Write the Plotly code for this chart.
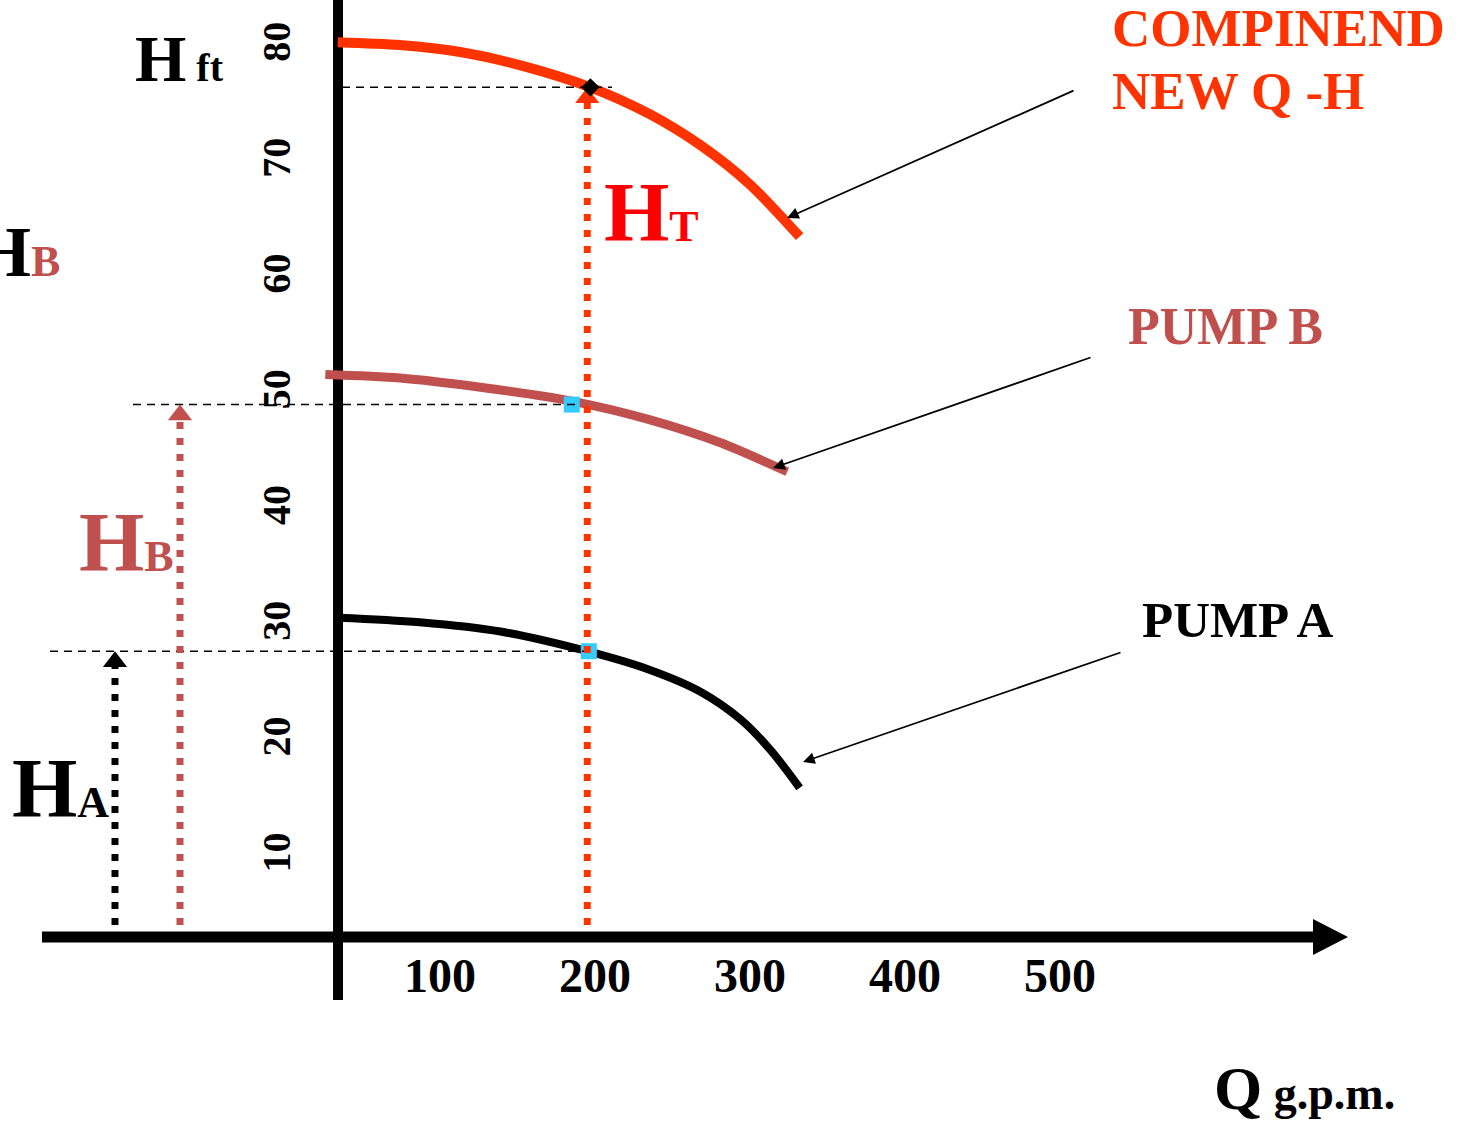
import plotly.graph_objects as go

# ---- Pump characteristic curves: flow Q (g.p.m.) vs head H (ft) ----
q_pump_a = [35, 87, 139, 195, 235, 268, 294, 313, 332]
h_pump_a = [30.1, 29.7, 28.9, 27.2, 25.6, 23.7, 21.3, 18.7, 15.4]

q_pump_b = [26, 74, 126, 185, 235, 281, 324]
h_pump_b = [51.1, 50.8, 50.0, 48.8, 47.2, 45.2, 42.7]

q_combined = [34, 74, 113, 152, 197, 235, 268, 300, 332]
h_combined = [79.8, 79.55, 78.95, 77.8, 75.9, 73.6, 70.9, 67.5, 63.0]

# operating point of the two pumps in series
q_op = 195
head_a = 27.2
head_b = 48.5
head_total = 75.9
q_mark_a = 196
q_mark_b = 185
q_mark_total = 197

x_tick_vals = [100, 200, 300, 400, 500]
y_tick_vals = [10, 20, 30, 40, 50, 60, 70, 80]

# ---- canvas / scale set-up ----
W, H = 1463, 1121
X_RANGE = [-183.9, 760.0]
Y_RANGE = [-13.37, 83.44]
FT_PER_PX = (Y_RANGE[1] - Y_RANGE[0]) / H

FONT = "Liberation Serif"
RED = "#FF3300"
BROWN = "#C0504D"
CYAN = "#33CCFF"


def q_at(px):
    return X_RANGE[0] + px / W * (X_RANGE[1] - X_RANGE[0])


def h_at(py):
    return Y_RANGE[1] - py / H * (Y_RANGE[1] - Y_RANGE[0])


def fx(px):
    return px / W


def fy(py):
    return 1 - py / H


fig = go.Figure()

# curves
fig.add_trace(go.Scatter(x=q_combined, y=h_combined, mode="lines",
                         line=dict(color=RED, width=10, shape="spline", smoothing=0.8)))
fig.add_trace(go.Scatter(x=q_pump_b, y=h_pump_b, mode="lines",
                         line=dict(color=BROWN, width=9, shape="spline", smoothing=0.8)))
fig.add_trace(go.Scatter(x=q_pump_a, y=h_pump_a, mode="lines",
                         line=dict(color="black", width=8, shape="spline", smoothing=1.0)))

# operating-point markers on the single-pump curves
fig.add_trace(go.Scatter(x=[q_mark_b, q_mark_a], y=[head_b, head_a], mode="markers",
                         marker=dict(symbol="square", size=16, color=CYAN,
                                     line=dict(width=0))))

# dashed head levels
dash_levels = [
    (q_at(342), q_at(612), head_total),
    (q_at(133), q_at(580), head_b),
    (q_at(50), q_at(595), head_a),
]
for x0, x1, lvl in dash_levels:
    fig.add_trace(go.Scatter(x=[x0, x1], y=[lvl, lvl], mode="lines",
                             line=dict(color="black", width=1.5, dash="8px,6px")))

# dotted head arrows
HEAD_SIZE = 21
base_h = h_at(925)
arrows = [
    (q_at(115), head_a, "black"),
    (q_at(180), head_b, BROWN),
    (q_op, head_total, RED),
]
for xq, top, col in arrows:
    centre = top - (HEAD_SIZE / 2) * FT_PER_PX
    fig.add_trace(go.Scatter(x=[xq, xq], y=[base_h, centre], mode="lines",
                             line=dict(color=col, width=7, dash="7px,9px")))
    fig.add_trace(go.Scatter(x=[xq], y=[centre], mode="markers",
                             marker=dict(symbol="triangle-up", size=HEAD_SIZE,
                                         color=col, line=dict(width=0))))

# combined duty point
fig.add_trace(go.Scatter(x=[q_mark_total], y=[head_total], mode="markers",
                         marker=dict(symbol="diamond", size=14, color="black",
                                     line=dict(width=0))))

# ---- hand-drawn style axes ----
shapes = [
    dict(type="line", xref="paper", yref="paper", x0=fx(338), x1=fx(338),
         y0=fy(0), y1=fy(1000), line=dict(color="black", width=10), layer="below"),
    dict(type="line", xref="paper", yref="paper", x0=fx(42), x1=fx(1316),
         y0=fy(937), y1=fy(937), line=dict(color="black", width=11), layer="below"),
    dict(type="path", xref="paper", yref="paper",
         path=f"M {fx(1313)},{fy(919)} L {fx(1348)},{fy(937)} L {fx(1313)},{fy(955)} Z",
         fillcolor="black", line=dict(color="black", width=0), layer="below"),
]

annotations = []


def label(text, px, py, size, color, xanchor="left"):
    annotations.append(dict(
        text=text, xref="paper", yref="paper", x=fx(px), y=fy(py),
        xanchor=xanchor, yanchor="bottom", showarrow=False,
        font=dict(family=FONT, size=size, color=color, weight="bold")))


def span(t, size, color=None):
    style = f"font-size:{size}px"
    if color:
        style += f";color:{color}"
    return f'<span style="{style}">{t}</span>'


label("COMPINEND", 1110, 59, 53, RED)
label("NEW Q -H", 1110, 122, 53, RED)
label("PUMP B", 1126, 357, 52, BROWN)
label("PUMP A", 1140, 650, 51, "black")
label(span("H", 66) + span(" ft", 40), 133, 97, 66, "black")
label(span("H", 72) + span("B", 44, BROWN), 62, 294, 72, "black", xanchor="right")
label(span("H", 84) + span("T", 44), 602, 261, 84, "#FF0000")
label(span("H", 84) + span("B", 44), 77, 591, 84, BROWN)
label(span("H", 84) + span("A", 44), 10, 837, 84, "black")
label(span("Q", 62) + span(" g.p.m.", 46), 1212, 1124, 62, "black")

# callout arrows pointing at the curve ends
callouts = [
    (q_at(787), h_at(218), q_at(1075), h_at(90)),
    (q_at(773), h_at(468), q_at(1092), h_at(357)),
    (q_at(803), h_at(762), q_at(1122), h_at(652)),
]
for hx, hy, tx, ty in callouts:
    annotations.append(dict(
        x=hx, y=hy, ax=tx, ay=ty, xref="x", yref="y", axref="x", ayref="y",
        text="", showarrow=True, arrowhead=2, arrowsize=1.3, arrowwidth=1.8,
        arrowcolor="black"))

fig.update_layout(
    width=W, height=H,
    margin=dict(l=0, r=0, t=0, b=0),
    paper_bgcolor="white", plot_bgcolor="white",
    showlegend=False,
    shapes=shapes,
    annotations=annotations,
    xaxis=dict(range=X_RANGE, domain=[0, 1], anchor="free", position=fy(943),
               showgrid=False, zeroline=False, showline=False, ticks="",
               tickvals=x_tick_vals, ticktext=[str(v) for v in x_tick_vals],
               tickfont=dict(family=FONT, size=48, color="black", weight="bold"),
               fixedrange=True),
    yaxis=dict(range=Y_RANGE, domain=[0, 1], anchor="free", position=fx(298),
               showgrid=False, zeroline=False, showline=False, ticks="",
               tickvals=y_tick_vals, ticktext=[str(v) for v in y_tick_vals],
               tickangle=-90, ticklabelshift=8,
               tickfont=dict(family=FONT, size=40, color="black", weight="bold"),
               fixedrange=True),
)

fig.write_html("out.html")
